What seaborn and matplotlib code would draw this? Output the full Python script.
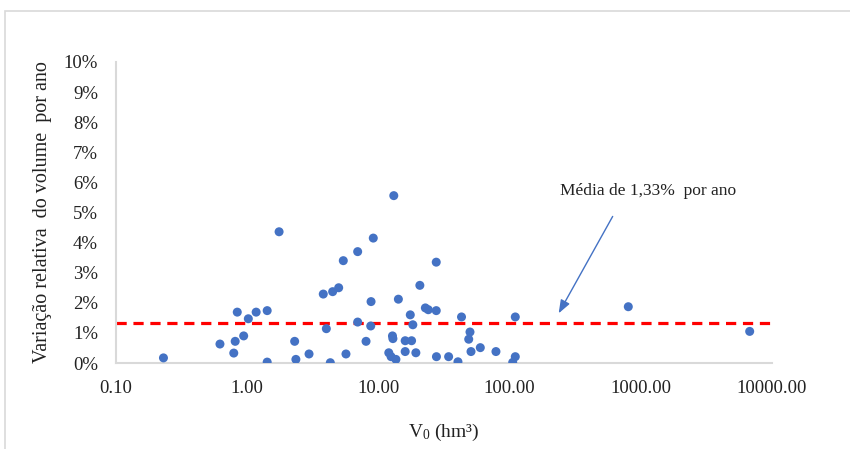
import matplotlib
matplotlib.use("Agg")
import matplotlib.pyplot as plt
import matplotlib.ticker as mticker
import matplotlib.patches as mpatches
import pandas as pd
import seaborn as sns

# volume inicial (hm3) e variacao relativa do volume por ano (%)
v0 = [0.23, 0.62, 0.79, 0.81, 0.84, 0.94, 1.02, 1.17, 1.42, 1.42,
      1.75, 2.30, 2.35, 2.96, 3.80, 4.01, 4.30, 4.48, 4.98, 5.40,
      5.66, 6.95, 6.95, 8.05, 8.74, 8.79, 9.14, 12.0, 12.5, 13.6,
      12.8, 12.9, 13.1, 14.2, 16.0, 16.0, 17.5, 17.9, 18.3, 19.3,
      20.7, 22.8, 24.0, 27.6, 27.6, 27.7, 34.3, 40.4, 43.0, 49.9,
      48.8, 50.8, 59.8, 78.7, 110.5, 110.5, 105.6, 803, 6760]
variacao = [0.17, 0.63, 0.33, 0.72, 1.69, 0.90, 1.47, 1.69, 1.74, 0.03,
            4.36, 0.72, 0.12, 0.30, 2.29, 1.14, 0.01, 2.37, 2.50, 3.40,
            0.30, 3.70, 1.36, 0.72, 1.23, 2.04, 4.15, 0.34, 0.21, 0.12,
            0.90, 0.81, 5.56, 2.12, 0.74, 0.38, 1.60, 0.74, 1.27, 0.34,
            2.58, 1.83, 1.77, 3.35, 1.74, 0.21, 0.21, 0.04, 1.53, 1.03,
            0.79, 0.38, 0.51, 0.38, 1.53, 0.21, 0.02, 1.87, 1.05]
media = 1.33
x_ticks = [0.1, 1, 10, 100, 1000, 10000]
y_ticks = list(range(0, 11))

data = pd.DataFrame({"v0": v0, "variacao": variacao})

sns.set_style("white")
plt.rcParams["font.family"] = ["Liberation Serif", "DejaVu Serif"]
plt.rcParams["mathtext.fontset"] = "custom"
plt.rcParams["mathtext.rm"] = "Liberation Serif"
plt.rcParams["mathtext.it"] = "Liberation Serif"

fig = plt.figure(figsize=(8.5, 4.49), dpi=100)
ax = fig.add_axes([116 / 850, 1 - 363 / 449, (772 - 116) / 850, (363 - 62) / 449])

sns.scatterplot(data=data, x="v0", y="variacao", ax=ax, color="#4472C4",
                s=42, edgecolor="none", zorder=3)
ax.axhline(media, color="#FF0000", lw=2.3, linestyle=(0, (3.2, 2.1)), zorder=2)

ax.set_xscale("log")
ax.set_xlim(0.1, 10000)
ax.set_ylim(0, 10)
ax.set_xticks(x_ticks)
ax.xaxis.set_minor_locator(mticker.NullLocator())
ax.xaxis.set_major_formatter(mticker.FuncFormatter(lambda v, p: f"{v:.2f}"))
ax.set_yticks(y_ticks)
ax.yaxis.set_major_formatter(mticker.FuncFormatter(lambda v, p: f"{int(v)}%"))
ax.tick_params(axis="both", length=0, labelsize=13.5, colors="#222222")
ax.tick_params(axis="x", pad=12)
ax.tick_params(axis="y", pad=13)

for side in ["top", "right"]:
    ax.spines[side].set_visible(False)
for side in ["left", "bottom"]:
    ax.spines[side].set_color("#D9D9D9")
    ax.spines[side].set_linewidth(1.5)

ax.set_xlabel(r"V$_\mathrm{0}$ (hm³)", fontsize=14, color="#222222", labelpad=18)
ax.set_ylabel("Variação relativa  do volume  por ano", fontsize=14.5,
              color="#222222", labelpad=8)

ax.annotate("", xy=(231, 1.57), xytext=(625, 4.95),
            arrowprops=dict(arrowstyle="-|>,head_length=0.8,head_width=0.3",
                            color="#4472C4", lw=1.0))
ax.text(1135, 5.72, "Média de 1,33%  por ano", fontsize=12.5,
        ha="center", va="center", color="#222222")

fig.patches.append(mpatches.Rectangle((5 / 850, -0.1), 1.2, 1 - 11 / 449 + 0.1,
                                      transform=fig.transFigure, fill=False,
                                      edgecolor="#D9D9D9", lw=1.2))

fig.savefig("out.png", dpi=100)
